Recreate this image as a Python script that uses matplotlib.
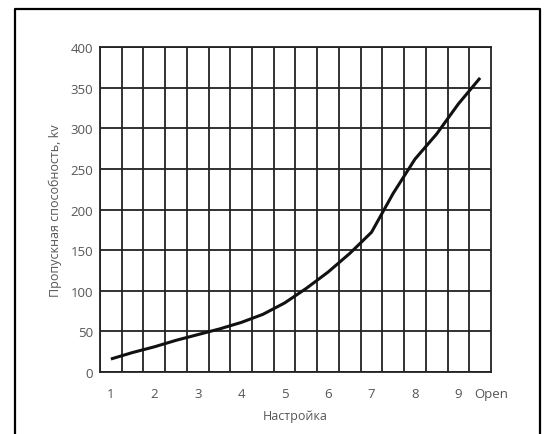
import numpy as np
import matplotlib
matplotlib.use('Agg')
import matplotlib.pyplot as plt
from matplotlib.lines import Line2D

plt.rcParams['font.family'] = ['Open Sans', 'DejaVu Sans']

setting = [1, 1.5, 2, 2.5, 3, 3.5, 4, 4.5, 5, 5.5, 6, 6.5, 7, 7.5, 8, 8.5, 9, 9.5]
capacity = [16, 24, 31, 39, 46, 53, 61, 71, 85, 103, 123, 146, 172, 220, 262, 293, 330, 362]

tick_pos = [1, 2, 3, 4, 5, 6, 7, 8, 9, 9.75]
tick_lab = ['1', '2', '3', '4', '5', '6', '7', '8', '9', 'Open']
y_ticks = [0, 50, 100, 150, 200, 250, 300, 350, 400]

text_color = '#555555'

fig = plt.figure(figsize=(5.46, 4.35), dpi=100)
ax = fig.add_axes([0.1832, 0.1425, 0.716, 0.7471])

ax.plot(setting, capacity, color='#111111', lw=2.2, solid_capstyle='butt', zorder=3)

ax.set_xlim(0.75, 9.75)
ax.set_ylim(0, 400)

ax.set_xticks(tick_pos)
ax.set_xticklabels(tick_lab)
ax.set_xticks(np.arange(0.75, 9.76, 0.5), minor=True)
ax.set_yticks(y_ticks)

ax.grid(False)
ax.grid(True, which='minor', axis='x', color='#222222', lw=1.3)
ax.grid(True, which='major', axis='y', color='#222222', lw=1.3)
ax.tick_params(axis='both', which='both', length=0, colors=text_color, labelsize=9.5)
ax.tick_params(axis='x', pad=11)
ax.tick_params(axis='y', pad=5)

for s in ax.spines.values():
    s.set_color('#222222')
    s.set_linewidth(1.3)

ax.set_xlabel('Настройка', fontsize=9, color=text_color, labelpad=6)
ax.set_ylabel('Пропускная способность, kv', fontsize=9, color=text_color, labelpad=6)

# outer frame, bottom runs off the picture
x0, x1, y1 = 15 / 546, 540 / 546, 1 - 10 / 435
fig.add_artist(Line2D([x0, x0, x1, x1], [-0.05, y1, y1, -0.05],
                      transform=fig.transFigure, color='black', lw=1.6))

fig.savefig('out.png', dpi=100)
